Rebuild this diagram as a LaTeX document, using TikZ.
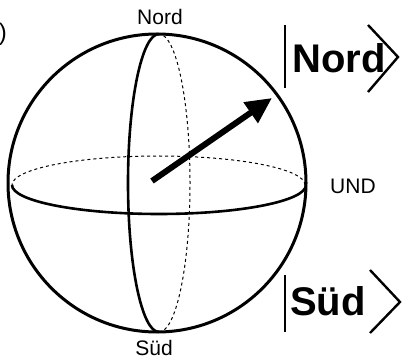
\documentclass[tikz,border=0pt]{standalone}
\usepackage{fontspec}
\setmainfont{Liberation Sans}
\usetikzlibrary{arrows.meta}
\begin{document}
\begin{tikzpicture}[x=1pt,y=1pt,
  solidline/.style={line width=2.6pt},
  backline/.style={line width=1pt, dash pattern=on 3pt off 3pt},
  ketline/.style={line width=2.4pt},
  smalllabel/.style={inner sep=0pt, font=\fontsize{21}{25}\selectfont},
  ketlabel/.style={inner sep=0pt, anchor=base west, font=\fontsize{40}{46}\selectfont\bfseries}]
\useasboundingbox (0,0) rectangle (403,361);
% sphere
\coordinate (C) at (157,178);
\draw[line width=3pt] (C) circle[radius=149];
% meridian
\coordinate (M) at (159,178);
\draw[solidline] (M) ++(0,149) arc[start angle=90, end angle=270, x radius=31, y radius=149];
\draw[backline] (M) ++(0,-149) arc[start angle=-90, end angle=90, x radius=31, y radius=149];
% equator
\coordinate (E) at (158,176);
\draw[solidline] (E) ++(-146,0) arc[start angle=180, end angle=360, x radius=147, y radius=29];
\draw[backline] (E) ++(147,0) arc[start angle=0, end angle=180, x radius=146.5, y radius=29];
% state arrow
\coordinate (tail) at (152,180);
\coordinate (tip) at (272,263);
\draw[line width=6pt, -{Triangle[length=26pt,width=24pt]}] (tail) -- (tip);
% labels
\node[smalllabel, anchor=base] (nord) at (160,336) {Nord};
\node[smalllabel, anchor=base] (sud) at (154,6) {Süd};
\node[smalllabel, anchor=base west] (und) at (330,167) {UND};
\node[inner sep=0pt, anchor=east, font=\fontsize{24}{28}\selectfont] (paren) at (7,327) {)};
% kets
\draw[ketline] (285,336) coordinate (nb1) -- (285,273) coordinate (nb2);
\node[ketlabel] (ketnord) at (292,288) {Nord};
\draw[ketline] (368,336) coordinate (na1) -- (398,304) coordinate (na2) -- (368,269) coordinate (na3);
\draw[ketline] (285,86) coordinate (sb1) -- (285,29) coordinate (sb2);
\node[ketlabel] (ketsud) at (290,46) {Süd};
\draw[ketline] (370,91) coordinate (sa1) -- (400,59) coordinate (sa2) -- (370,28) coordinate (sa3);
\end{tikzpicture}
\end{document}
